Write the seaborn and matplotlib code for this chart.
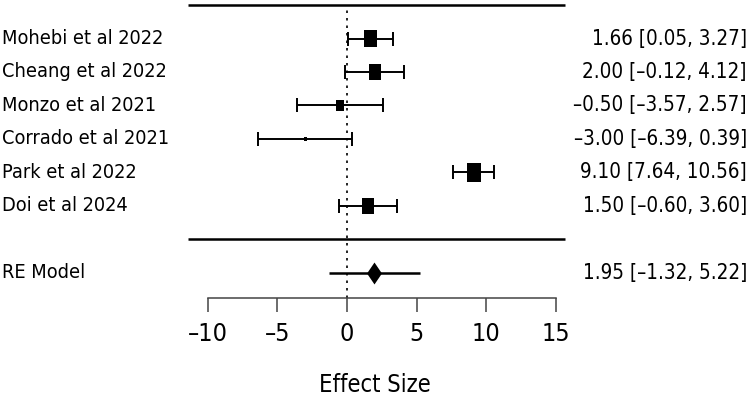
import numpy as np
import pandas as pd
import matplotlib
matplotlib.use("Agg")
import matplotlib.pyplot as plt
import matplotlib.transforms as mtransforms
import seaborn as sns

studies = ["Mohebi et al 2022", "Cheang et al 2022", "Monzo et al 2021",
           "Corrado et al 2021", "Park et al 2022", "Doi et al 2024"]
est = [1.66, 2.00, -0.50, -3.00, 9.10, 1.50]
ci_lo = [0.05, -0.12, -3.57, -6.39, 7.64, -0.60]
ci_hi = [3.27, 4.12, 2.57, 0.39, 10.56, 3.60]
re_label = "RE Model"
re_est, re_lo, re_hi = 1.95, -1.32, 5.22
xticks = [-10, -5, 0, 5, 10, 15]
xlabel = "Effect Size"

# box heights in points (weights)
box_h = [12.3, 12.0, 7.8, 3.2, 13.3, 11.3]

df = pd.DataFrame({"study": studies, "est": est, "lo": ci_lo, "hi": ci_hi})
df["row"] = np.arange(len(df), 0, -1)

sns.set_style("white")
plt.rcParams["font.family"] = ["DejaVu Sans"]
plt.rcParams["font.stretch"] = "condensed"
plt.rcParams["text.color"] = "black"
plt.rcParams["xtick.color"] = "black"
plt.rcParams["axes.labelcolor"] = "black"

def fmt(v):
    return f"{v:.2f}".replace("-", "\u2013")

fig = plt.figure(figsize=(7.5, 4), dpi=100)
ax = fig.add_axes([0, 0.255, 1, 0.745])
xmin, xmax = -24.93, 28.95
ax.set_xlim(xmin, xmax)
ax.set_ylim(-1.75, 7.15)

# reference line and separators
ax.vlines(0, -1.75, 7, colors="black", lw=1.2, linestyles=(0, (1.5, 3)))
ax.hlines([len(df) + 1, 0], -11.42, 15.66, colors="black", lw=1.8)

# study CIs and boxes
ax.errorbar(df["est"], df["row"], xerr=[df["est"] - df["lo"], df["hi"] - df["est"]],
            fmt="none", ecolor="black", elinewidth=1.4, capsize=5, capthick=1.4)
rect = [(-0.38, -0.5), (0.38, -0.5), (0.38, 0.5), (-0.38, 0.5), (-0.38, -0.5)]
sns.scatterplot(data=df, x="est", y="row", ax=ax, marker=rect, color="black",
                edgecolor="black", linewidth=0, s=[h ** 2 for h in box_h],
                legend=False, zorder=3)

# summary
ax.hlines(-1, re_lo, re_hi, colors="black", lw=1.8)
diamond = [(0, -0.5), (0.34, 0), (0, 0.5), (-0.34, 0), (0, -0.5)]
sns.scatterplot(x=[re_est], y=[-1], ax=ax, marker=diamond, color="black",
                edgecolor="black", linewidth=0, s=15.8 ** 2, legend=False, zorder=3)

# text columns
trans = mtransforms.blended_transform_factory(ax.transAxes, ax.transData)
for _, r in df.iterrows():
    ax.text(0.003, r["row"], r["study"], transform=trans, ha="left", va="center", fontsize=14.3)
    ax.text(0.996, r["row"], f"{fmt(r['est'])} [{fmt(r['lo'])}, {fmt(r['hi'])}]",
            transform=trans, ha="right", va="center", fontsize=14.8)
ax.text(0.003, -1, re_label, transform=trans, ha="left", va="center", fontsize=14.3)
ax.text(0.996, -1, f"{fmt(re_est)} [{fmt(re_lo)}, {fmt(re_hi)}]",
        transform=trans, ha="right", va="center", fontsize=14.8)

# x axis
for s in ["top", "left", "right"]:
    ax.spines[s].set_visible(False)
ax.spines["bottom"].set_bounds(xticks[0], xticks[-1])
ax.spines["bottom"].set_color("#444444")
ax.spines["bottom"].set_linewidth(1.1)
ax.set_xticks(xticks)
ax.set_xticklabels([str(t).replace("-", "\u2013") for t in xticks], fontsize=18)
ax.tick_params(axis="x", direction="out", length=10, width=1.1, color="#444444", pad=7,
               bottom=True, labelcolor="black")
ax.set_yticks([])
ax.set_xlabel(xlabel, fontsize=17)
ax.xaxis.set_label_coords(0.5, -0.25)
ax.set_facecolor("white")
fig.patch.set_facecolor("white")

fig.savefig("out.png", dpi=100)
